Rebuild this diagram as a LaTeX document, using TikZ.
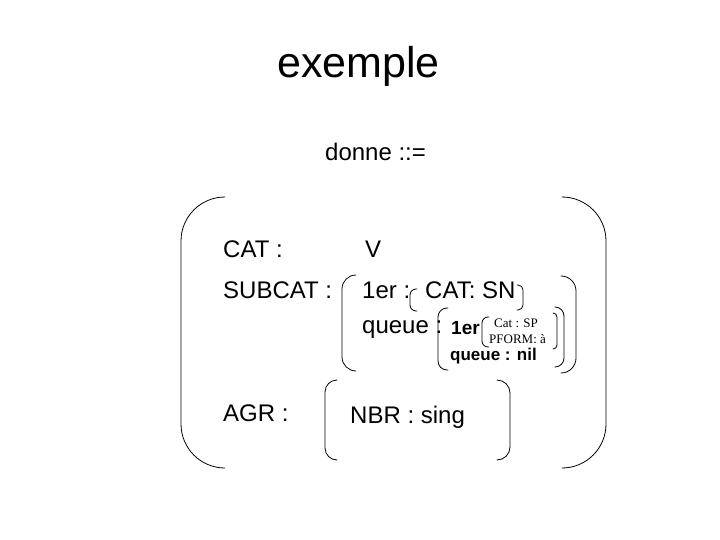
\documentclass[tikz,border=0pt]{standalone}
\usepackage{fontspec}
\setmainfont{Liberation Sans}
\newfontfamily\serifsmall{Liberation Serif}
\begin{document}
\begin{tikzpicture}[x=1pt,y=-1pt,
  txt/.style={anchor=base west,inner sep=0pt,font=\fontsize{24}{28}\selectfont},
  smallbold/.style={anchor=base west,inner sep=0pt,font=\fontsize{17}{20}\selectfont\bfseries},
  smallserif/.style={anchor=base west,inner sep=0pt,font=\fontsize{13}{15}\selectfont\serifsmall},
  brk/.style={line width=0.8pt,line cap=round}]
\useasboundingbox (0,0) rectangle (720,540);
% titles
\node[anchor=base west,inner sep=0pt,font=\fontsize{43}{48}\selectfont] (title) at (277,78) {exemple};
\node[txt] (donne) at (325,161) {donne ::=};
% labels
\node[txt] (cat) at (223,258) {CAT :};
\node[txt] (v) at (365,258) {V};
\node[txt] (subcat) at (223,298) {SUBCAT :};
\node[txt] (premier) at (362,298) {1er :};
\node[txt] (catsn) at (425,298) {CAT: SN};
\node[txt] (queue) at (362,333) {queue :};
\node[smallbold,font=\fontsize{19}{22}\selectfont\bfseries] (premier2) at (451,334) {1er};
\node[smallserif] (catsp) at (494,327) {Cat : SP};
\node[smallserif] (pform) at (489,343) {PFORM: à};
\node[smallbold] (queuenil) at (450,360) {queue : nil};
\node[txt] (agr) at (223,421) {AGR :};
\node[txt] (nbr) at (350,423) {NBR : sing};
% big brackets
\draw[brk,rounded corners=44] (225,197) -- (181,197) -- (181,468) -- (225,468);
\draw[brk,rounded corners=44] (562,197) -- (606,197) -- (606,468) -- (562,468);
% subcat brackets
\draw[brk,rounded corners=14] (355,275) -- (342,275) -- (342,371) -- (355,371);
\draw[brk,rounded corners=15] (561,276) -- (576,276) -- (576,373) -- (561,373);
% cat: sn brackets
\draw[brk,rounded corners=6] (417,289) -- (410,289) -- (410,311) -- (417,311);
\draw[brk,rounded corners=5] (517,285) -- (523,285) -- (523,310) -- (517,310);
% queue brackets
\draw[brk,rounded corners=9] (448,308) -- (438,308) -- (438,370) -- (448,370);
\draw[brk,rounded corners=9] (555,307) -- (564,307) -- (564,367) -- (555,367);
% cat: sp brackets
\draw[brk,rounded corners=6] (489,317) -- (482,317) -- (482,347) -- (489,347);
\draw[brk,rounded corners=4] (553,313) -- (557,313) -- (557,349) -- (553,349);
% agr brackets
\draw[brk,rounded corners=12] (337,380) -- (325,380) -- (325,460) -- (337,460);
\draw[brk,rounded corners=13] (497,380) -- (510,380) -- (510,460) -- (497,460);
\end{tikzpicture}
\end{document}
